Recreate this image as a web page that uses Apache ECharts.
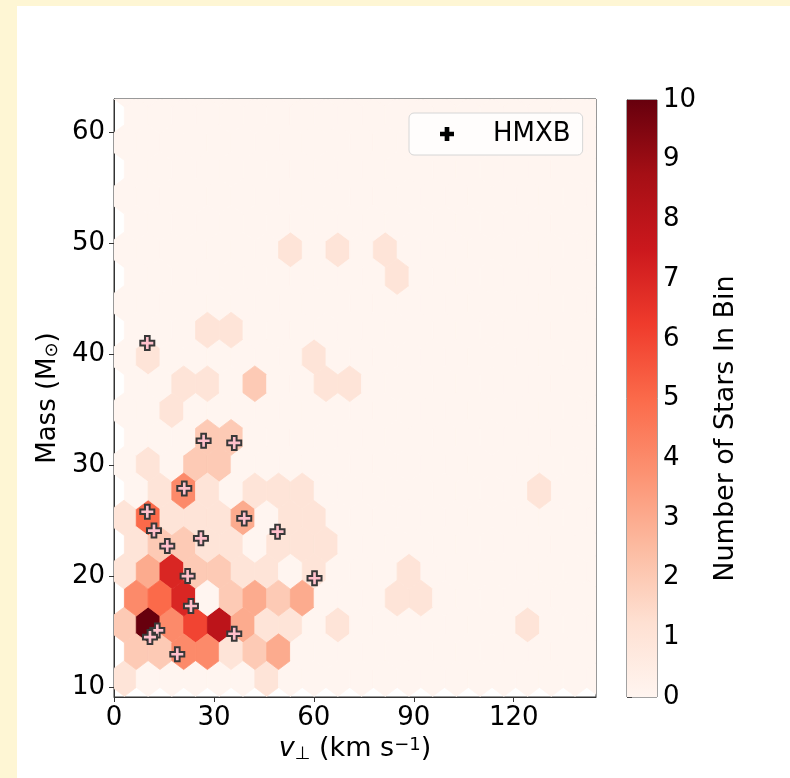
<!DOCTYPE html>
<html>
<head>
<meta charset="utf-8">
<title>HMXB mass vs velocity hexbin</title>
<script src="https://cdn.jsdelivr.net/npm/echarts@6/dist/echarts.min.js"></script>
<style>
  html, body { margin: 0; padding: 0; background: #fef6d4; }
  #chart { position: absolute; left: 0; top: 0; width: 790px; height: 778px; }
</style>
</head>
<body>
<div id="chart"></div>
<script>
// hexbin lattice (matplotlib style, two offset lattices)
var hexX0 = 3.12, hexDX = 7.12, hexNX = 20;
var hexY0 = 10.77, hexDY = 4.83, hexNY = 11;

// non-empty bins: centre velocity (km/s), centre mass (Msun), count
var binV = [
  53.0, 67.2, 81.4,
  85.0,
  28.0, 35.2,
  10.2, 60.1,
  20.9, 28.0, 42.3, 63.6, 70.8,
  17.4,
  28.0, 35.2,
  10.2, 24.5, 31.6,
  13.8, 20.9, 28.0, 42.3, 49.4, 56.5, 127.7,
  3.1, 10.2, 17.4, 24.5, 31.6, 38.7, 53.0, 60.1,
  6.7, 13.8, 20.9, 28.0, 35.2, 49.4, 56.5, 63.6,
  3.1, 10.2, 17.4, 24.5, 31.6, 38.7, 45.8, 60.1, 88.6,
  6.7, 13.8, 20.9, 35.2, 42.3, 49.4, 56.5, 85.0, 92.1,
  3.1, 10.2, 17.4, 24.5, 31.6, 38.7, 45.8, 53.0, 67.2, 124.2,
  6.7, 13.8, 20.9, 28.0, 35.2, 42.3, 49.4,
  3.1, 45.8
];
var binMass = [
  49.4, 49.4, 49.4,
  47.0,
  42.2, 42.2,
  39.8, 39.8,
  37.3, 37.3, 37.3, 37.3, 37.3,
  34.9,
  32.5, 32.5,
  30.1, 30.1, 30.1,
  27.7, 27.7, 27.7, 27.7, 27.7, 27.7, 27.7,
  25.3, 25.3, 25.3, 25.3, 25.3, 25.3, 25.3, 25.3,
  22.8, 22.8, 22.8, 22.8, 22.8, 22.8, 22.8, 22.8,
  20.4, 20.4, 20.4, 20.4, 20.4, 20.4, 20.4, 20.4, 20.4,
  18.0, 18.0, 18.0, 18.0, 18.0, 18.0, 18.0, 18.0, 18.0,
  15.6, 15.6, 15.6, 15.6, 15.6, 15.6, 15.6, 15.6, 15.6, 15.6,
  13.2, 13.2, 13.2, 13.2, 13.2, 13.2, 13.2,
  10.8, 10.8
];
var binCount = [
  1, 1, 1,
  1,
  1, 1,
  1, 1,
  1, 1, 2, 1, 1,
  1,
  2, 2,
  1, 2, 2,
  1, 4, 1, 1, 1, 1, 1,
  1, 5, 1, 1, 1, 3, 1, 1,
  1, 2, 2, 1, 1, 1, 1, 1,
  1, 3, 7, 2, 2, 1, 1, 1, 1,
  4, 5, 7, 2, 3, 2, 3, 1, 1,
  2, 10, 4, 6, 8, 3, 1, 1, 1, 1,
  2, 2, 4, 4, 1, 2, 3,
  1, 1
];

// HMXB stars
var hmxbV = [10.0, 26.9, 36.1, 21.1, 10.0, 39.1, 12.0, 26.1, 16.0, 49.1, 22.1, 60.2, 23.1, 13.0, 10.8, 19.0, 36.1];
var hmxbMass = [41.0, 32.2, 32.0, 27.9, 25.8, 25.2, 24.1, 23.4, 22.7, 24.0, 20.0, 19.8, 17.3, 15.1, 14.5, 12.95, 14.8];

var xTicks = [0, 30, 60, 90, 120];
var yTicks = [10, 20, 30, 40, 50, 60];
var reds = ['#fff5f0', '#fee0d2', '#fcbba1', '#fc9272', '#fb6a4a', '#ef3b2c', '#cb181d', '#a50f15', '#67000d'];

var FONT = 'DejaVu Sans';

function countAt(v, m) {
  for (var k = 0; k < binV.length; k++) {
    if (Math.abs(binV[k] - v) < 1 && Math.abs(binMass[k] - m) < 1) return binCount[k];
  }
  return 0;
}

var hexData = [];
for (var i = 0; i <= hexNX; i++) {
  for (var j = 0; j <= hexNY; j++) {
    var v1 = hexX0 + i * hexDX, m1 = hexY0 + j * hexDY;
    hexData.push([v1, m1, countAt(v1, m1)]);
  }
}
for (var i2 = 0; i2 < hexNX; i2++) {
  for (var j2 = 0; j2 < hexNY; j2++) {
    var v2 = hexX0 + (i2 + 0.5) * hexDX, m2 = hexY0 + (j2 + 0.5) * hexDY;
    hexData.push([v2, m2, countAt(v2, m2)]);
  }
}

var hmxbData = hmxbV.map(function (v, k) { return [v, hmxbMass[k]]; });

var plusPath = 'path://M-1,-3L1,-3L1,-1L3,-1L3,1L1,1L1,3L-1,3L-1,1L-3,1L-3,-1L-1,-1Z';

function renderHex(params, api) {
  var c = api.coord([api.value(0), api.value(1)]);
  var w = api.size([hexDX, 0])[0] / 2;
  var h = api.size([0, hexDY])[1] / 3;
  var cs = params.coordSys;
  var col = api.visual('color');
  return {
    type: 'polygon',
    shape: {
      points: [
        [c[0] + w, c[1] - h / 2], [c[0] + w, c[1] + h / 2], [c[0], c[1] + h],
        [c[0] - w, c[1] + h / 2], [c[0] - w, c[1] - h / 2], [c[0], c[1] - h]
      ]
    },
    style: { fill: col, stroke: col, lineWidth: 0.8 },
    clipPath: { type: 'rect', shape: { x: cs.x, y: cs.y, width: cs.width, height: cs.height } }
  };
}

function renderColorbar(params, api) {
  var p0 = api.coord([0, api.value(0)]);
  var p1 = api.coord([1, api.value(1)]);
  var stops = reds.map(function (c, k) { return { offset: k / (reds.length - 1), color: c }; });
  return {
    type: 'rect',
    shape: { x: p0[0], y: p1[1], width: p1[0] - p0[0], height: p0[1] - p1[1] },
    style: { fill: new echarts.graphic.LinearGradient(0, 1, 0, 0, stops) }
  };
}

var myChart = echarts.init(document.getElementById('chart'));

var option = {
  animation: false,
  backgroundColor: '#fef6d4',
  graphic: [{
    type: 'rect', left: 17, top: 6, z: -10,
    shape: { width: 773, height: 772 },
    style: { fill: '#ffffff' }
  }],
  textStyle: { fontFamily: FONT },
  grid: [
    { left: 114, top: 99, width: 482, height: 598, show: true, borderColor: '#333', borderWidth: 1 },
    { left: 627, top: 100, width: 30, height: 597, show: true, borderColor: '#444', borderWidth: 1 }
  ],
  xAxis: [
    {
      type: 'value', gridIndex: 0, min: 0, max: 144.7,
      name: '{it|v}{sub|⊥} (km s{sup|−1})',
      nameLocation: 'middle', nameGap: 36,
      nameTextStyle: {
        fontSize: 27, fontFamily: FONT, color: '#000',
        rich: {
          it: { fontStyle: 'italic', fontSize: 27, fontFamily: FONT, color: '#000' },
          sub: { fontSize: 18, fontFamily: FONT, color: '#000', verticalAlign: 'bottom', lineHeight: 14 },
          sup: { fontSize: 18, fontFamily: FONT, color: '#000', verticalAlign: 'top', lineHeight: 14 }
        }
      },
      axisLine: { show: true, lineStyle: { color: '#333', width: 1 } },
      axisTick: { show: true, inside: false, length: 5, customValues: xTicks, lineStyle: { color: '#333' } },
      axisLabel: { fontSize: 26, color: '#000', margin: 8, customValues: xTicks },
      splitLine: { show: false }
    },
    { type: 'value', gridIndex: 1, min: 0, max: 1, show: false }
  ],
  yAxis: [
    {
      type: 'value', gridIndex: 0, min: 9.1, max: 63.0,
      name: 'Mass (M{sub|⊙})',
      nameLocation: 'middle', nameGap: 33,
      nameTextStyle: {
        fontSize: 26, fontFamily: FONT, color: '#000',
        rich: {
          sub: { fontSize: 18, fontFamily: FONT, color: '#000', verticalAlign: 'bottom', lineHeight: 14 }
        }
      },
      axisLine: { show: true, lineStyle: { color: '#333', width: 1 } },
      axisTick: { show: true, inside: false, length: 5, customValues: yTicks, lineStyle: { color: '#333' } },
      axisLabel: { fontSize: 26, color: '#000', margin: 9, customValues: yTicks },
      splitLine: { show: false }
    },
    {
      type: 'value', gridIndex: 1, min: 0, max: 10, interval: 1, position: 'right',
      name: 'Number of Stars In Bin',
      nameLocation: 'middle', nameRotate: 90, nameGap: 55,
      nameTextStyle: { fontSize: 27, fontFamily: FONT, color: '#000', padding: [0, 60, 0, 0] },
      axisLine: { show: true, lineStyle: { color: '#444', width: 1 } },
      axisTick: { show: true, inside: false, length: 5, lineStyle: { color: '#444' } },
      axisLabel: { fontSize: 26, color: '#000', margin: 6 },
      splitLine: { show: false }
    }
  ],
  visualMap: {
    type: 'continuous', show: false, min: 0, max: 10, dimension: 2, seriesIndex: 0,
    inRange: { color: reds }
  },
  legend: {
    left: 409, top: 113,
    selectedMode: false,
    padding: [8, 12, 8, 31],
    itemWidth: 14, itemHeight: 14,
    backgroundColor: 'rgba(255,255,255,0.8)',
    borderColor: '#d6d6d6', borderWidth: 1, borderRadius: 5,
    textStyle: { fontSize: 26, fontFamily: FONT, color: '#000', padding: [0, 0, 0, 34] },
    data: [{ name: 'HMXB', icon: plusPath, itemStyle: { color: '#000', borderWidth: 0 } }]
  },
  series: [
    {
      name: 'bins', type: 'custom', xAxisIndex: 0, yAxisIndex: 0,
      renderItem: renderHex, data: hexData, silent: true
    },
    {
      name: 'HMXB', type: 'scatter', xAxisIndex: 0, yAxisIndex: 0,
      symbol: plusPath, symbolSize: 14, z: 5,
      itemStyle: { color: '#ffc0cb', borderColor: '#383838', borderWidth: 2, opacity: 1 },
      data: hmxbData
    },
    {
      name: 'colorbar', type: 'custom', xAxisIndex: 1, yAxisIndex: 1,
      renderItem: renderColorbar, data: [[0, 10]], silent: true
    }
  ]
};

myChart.setOption(option);
</script>
</body>
</html>
